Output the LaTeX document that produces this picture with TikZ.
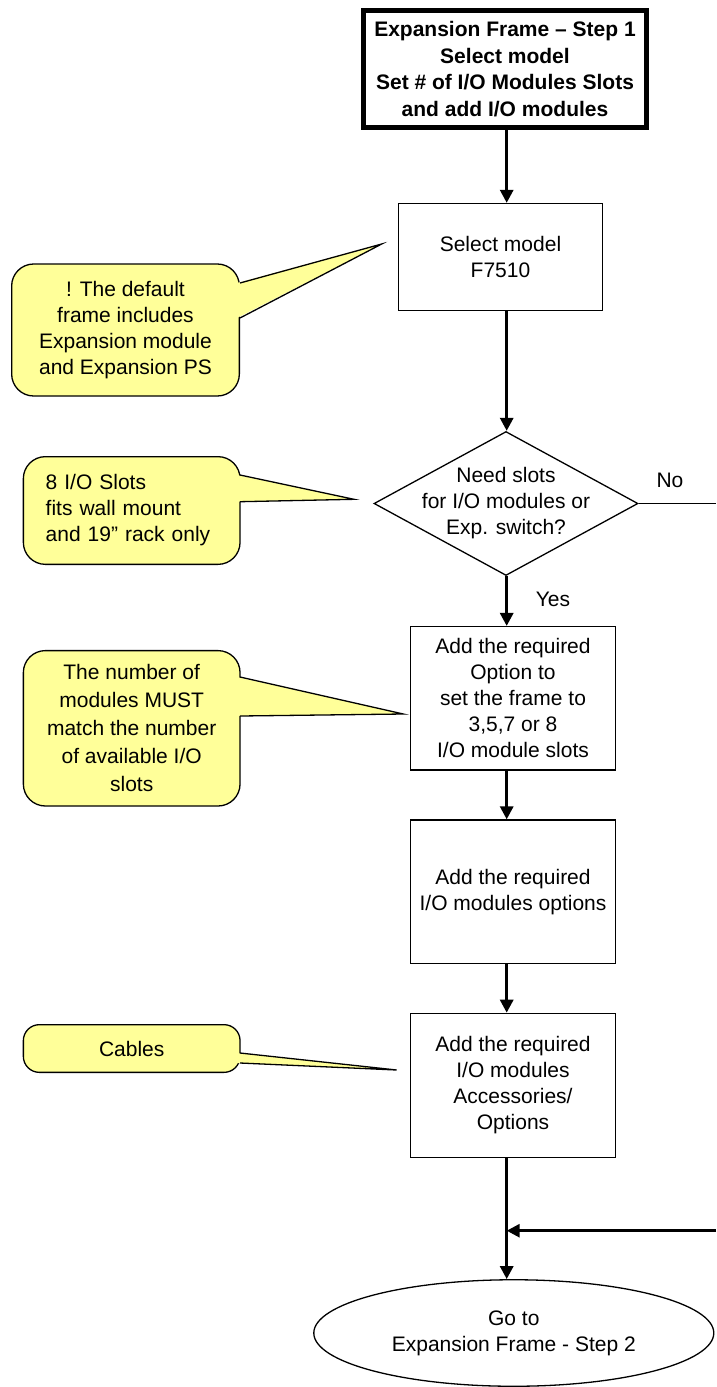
\documentclass[tikz,border=0pt]{standalone}
\usepackage{fontspec}
\setmainfont{Liberation Sans}
\usetikzlibrary{arrows.meta,shapes.geometric}
\definecolor{noteyellow}{HTML}{FFFF99}

\begin{document}
\begin{tikzpicture}[x=1pt,y=-1pt,
  txt/.style={font=\fontsize{21}{26}\selectfont, align=center},
  stepbox/.style={txt, draw, line width=1.3pt, inner sep=0pt},
  notebox/.style={txt, draw, line width=1.3pt, fill=noteyellow, rounded corners=22pt, inner sep=0pt},
  flow/.style={line width=3pt, -{Triangle[width=13pt,length=13pt]}}]
\useasboundingbox (0,0) rectangle (716,1387);
\coordinate (axis) at (506.7,0);

% main column
\node[stepbox, line width=5pt, minimum width=283pt, minimum height=117pt, font=\fontsize{21}{26.5}\selectfont\bfseries] (start) at (505,69) {Expansion Frame – Step 1\\Select model\\Set \# of I/O Modules Slots\\and add I/O modules};
\node[stepbox, minimum width=204pt, minimum height=107pt] (model) at (500.5,257) {Select model\\F7510};
\node[stepbox, diamond, minimum width=264pt, minimum height=144pt, inner sep=-30pt] (slots) at (506,503.5) {Need slots\\for I/O modules or\\Exp. switch?};
\node[stepbox, minimum width=204.7pt, minimum height=143.4pt] (option) at (513,698.3) {Add the required\\Option to\\set the frame to\\3,5,7 or 8\\I/O module slots};
\node[stepbox, minimum width=204.7pt, minimum height=143.4pt] (modules) at (513,891.7) {Add the required\\I/O modules options};
\node[stepbox, minimum width=204.7pt, minimum height=144.3pt] (access) at (513,1085.5) {Add the required\\I/O modules\\Accessories/\\Options};
\node[stepbox, ellipse, minimum width=400pt, minimum height=106.5pt] (next) at (513.8,1333) {Go to\\Expansion Frame - Step 2};

\draw[flow] (axis |- start.south) -- (axis |- model.north);
\draw[flow] (axis |- model.south) -- (axis |- slots.north);
\draw[flow] (axis |- slots.south) -- (axis |- option.north);
\draw[flow] (axis |- option.south) -- (axis |- modules.north);
\draw[flow] (axis |- modules.south) -- (axis |- access.north);
\draw[flow] (axis |- access.south) -- (axis |- next.north);

% no branch, leaves the page on the right
\coordinate (noOut) at (716,503.5);
\coordinate (noIn) at (716,1230.7);
\draw[line width=1.5pt] (slots.east) -- (noOut);
\draw[flow] (noIn) -- (axis |- noIn);
\node[txt] (no) at (670,480) {No};
\node[txt] (yes) at (553,599) {Yes};

% notes
\node[notebox, minimum width=227.7pt, minimum height=132pt] (noteFrame) at (125.5,330) {! The default\\frame includes\\Expansion module\\and Expansion PS};
\coordinate (tipFrame) at (381.7,244);
\fill[noteyellow] (237,283) -- (tipFrame) -- (237,318) -- cycle;
\draw[line width=1.3pt] (240,283) -- (tipFrame) -- (240,318);

\node[notebox, minimum width=216.7pt, minimum height=107.7pt, text width=172pt, align=left] (noteRack) at (131.7,510.5) {8 I/O Slots\\fits wall mount\\and 19” rack only};
\coordinate (tipRack) at (354,499.3);
\fill[noteyellow] (237,475) -- (tipRack) -- (237,501.7) -- cycle;
\draw[line width=1.3pt] (240,475) -- (tipRack) -- (240,501.7);

\node[notebox, minimum width=216.7pt, minimum height=155.4pt, font=\fontsize{21}{28}\selectfont] (noteCount) at (131.7,728.3) {The number of\\modules MUST\\match the number\\of available I/O\\slots};
\coordinate (tipCount) at (403.3,714);
\fill[noteyellow] (237,677) -- (tipCount) -- (237,716) -- cycle;
\draw[line width=1.3pt] (240,677) -- (tipCount) -- (240,716);

\node[notebox, rounded corners=16pt, minimum width=216.7pt, minimum height=47.7pt] (noteCable) at (131.7,1048.5) {Cables};
\coordinate (tipCable) at (396.7,1070);
\fill[noteyellow] (237,1053) -- (tipCable) -- (237,1063) -- cycle;
\draw[line width=1.3pt] (240,1053) -- (tipCable) -- (240,1063);
\end{tikzpicture}
\end{document}
